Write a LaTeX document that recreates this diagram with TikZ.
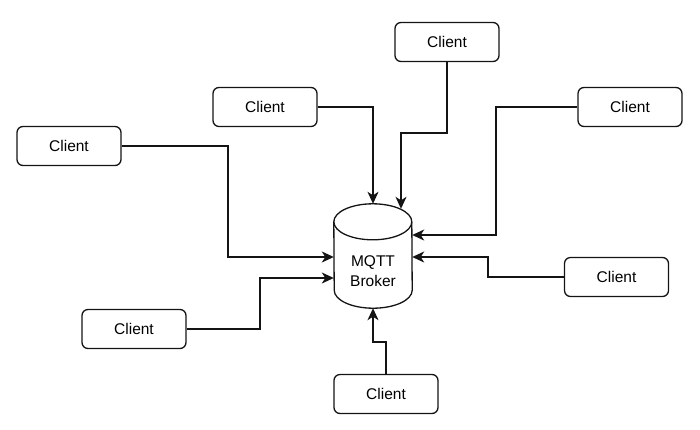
\documentclass[tikz,border=0pt]{standalone}
\usepackage{fontspec}
\setmainfont{Liberation Sans}
\usepackage{tikz}
\usetikzlibrary{calc, shapes.geometric, positioning, arrows.meta}
\definecolor{InkBlack}{RGB}{20, 20, 20}

\tikzset{
    client/.style={draw=InkBlack, line width=1.3pt, rounded corners=6pt, minimum width=104pt, minimum height=39pt, font=\fontsize{15.5}{18}\selectfont},
    broker/.style={minimum width=78pt, minimum height=104pt, inner sep=0pt},
    link/.style={->, InkBlack, line width=1.3pt}
}

\begin{document}
\begin{tikzpicture}[x=1pt, y=-1pt, >={Stealth[length=12pt, width=11pt, inset=3.5pt]}]
    \useasboundingbox (0,0) rectangle (700,429);
    % Broker (cylinder drawn round the node)
    \node[broker] (broker) at (373,256) {};
    \draw[InkBlack, line width=1.3pt] ($(broker.north west)+(0,18)$) arc[start angle=180, end angle=360, x radius=39, y radius=18]
        -- ($(broker.south east)+(0,-18)$) arc[start angle=0, end angle=180, x radius=39, y radius=18] -- cycle;
    \draw[InkBlack, line width=1.3pt] ($(broker.north west)+(0,18)$) arc[start angle=180, end angle=0, x radius=39, y radius=18];
    \node[align=center, font=\fontsize{15.5}{20}\selectfont] (brokertxt) at (373,271) {MQTT\\Broker};
    % Clients
    \node[client] (ctop) at (447,42) {Client};
    \node[client] (cupleft) at (265,107) {Client};
    \node[client] (cupright) at (630,107) {Client};
    \node[client] (cleft) at (69,146) {Client};
    \node[client] (cright) at (616.5,277) {Client};
    \node[client] (clowleft) at (134,329) {Client};
    \node[client] (cbottom) at (386,394) {Client};
    % Links
    \draw[link] (cupleft.east) -| (broker.north);
    \draw[link] (ctop.south) -- (447,133) -| ($(broker.north)+(28,5)$);
    \draw[link] (cupright.west) -| (496,235) -- (broker.east |- 0,235);
    \draw[link] (cright.west) -| (488,257) -- (broker.east |- 0,257);
    \draw[link] (cleft.east) -| (228,257) -- (broker.west |- 0,257);
    \draw[link] (clowleft.east) -| (260,278) -- (broker.west |- 0,278);
    \draw[link] (cbottom.north) -- (386,342) -| (broker.south);
\end{tikzpicture}
\end{document}
